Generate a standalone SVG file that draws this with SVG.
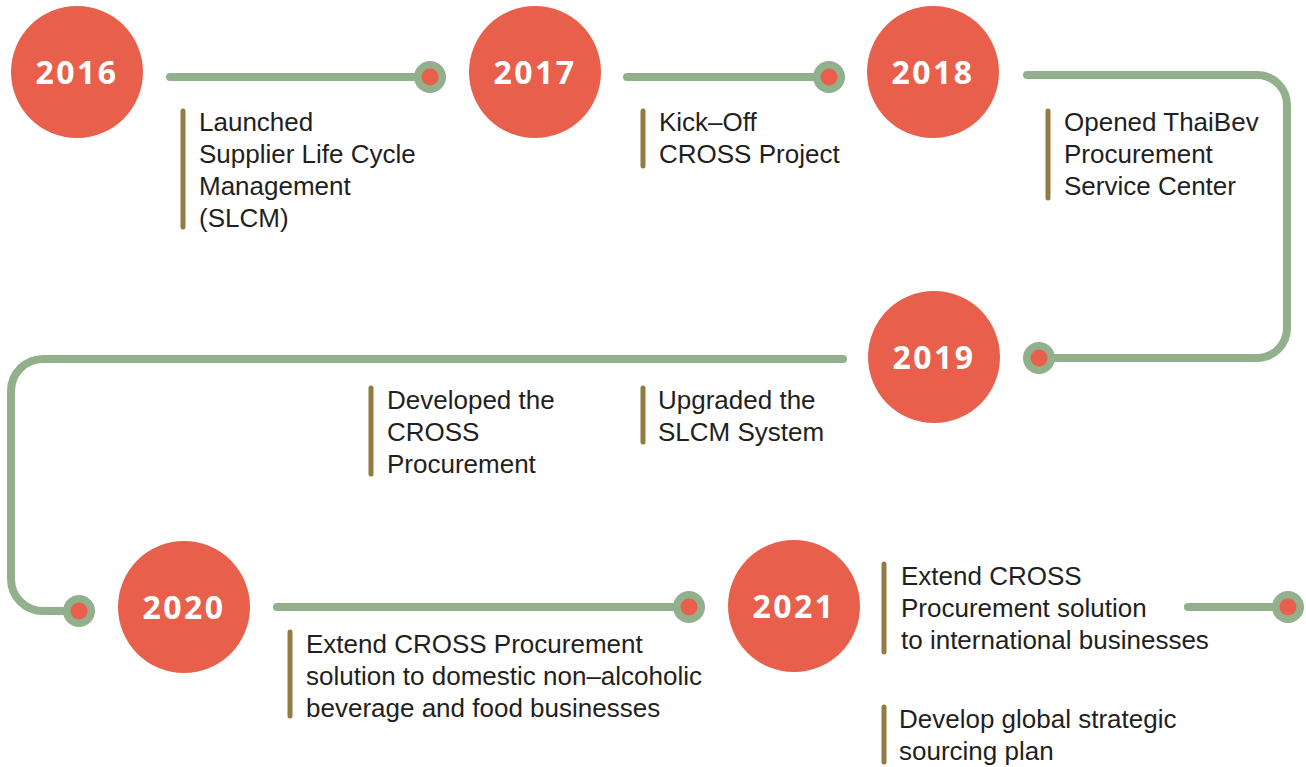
<svg xmlns="http://www.w3.org/2000/svg" width="1306" height="767" viewBox="0 0 1306 767">
<style>
.bg{fill:#ffffff}
.line{fill:none;stroke:#91b08b;stroke-width:8;stroke-linecap:round;stroke-linejoin:round}
.year{fill:#e8604b}
.yt{fill:#ffffff;font-family:"Open Sans","Liberation Sans",sans-serif;font-weight:700;font-size:32px;letter-spacing:2.5px;text-anchor:middle}
.dotO{fill:#91b08b}
.dotI{fill:#e8604b}
.bar{stroke:#937c44;stroke-width:5;stroke-linecap:round}
.lbl{fill:#231f20;font-family:"Liberation Sans",Arial,sans-serif;font-size:26px}
</style>
<rect class="bg" x="0" y="0" width="1306" height="767"/>
<g id="connectors">
<path class="line" d="M170 77 H430"/>
<path class="line" d="M627 77 H829"/>
<path class="line" d="M1027 75 H1257 A30 30 0 0 1 1287 105 V328 A30 30 0 0 1 1257 358 H1039"/>
<path class="line" d="M843 359 H43 A32 32 0 0 0 11 391 V579 A32 32 0 0 0 43 611 H79"/>
<path class="line" d="M277 607 H689"/>
<path class="line" d="M1188 607 H1288"/>
<circle class="dotO" cx="430" cy="77" r="16"/><circle class="dotI" cx="430" cy="77" r="8.5"/>
<circle class="dotO" cx="829" cy="77" r="16"/><circle class="dotI" cx="829" cy="77" r="8.5"/>
<circle class="dotO" cx="1039" cy="358" r="16"/><circle class="dotI" cx="1039" cy="358" r="8.5"/>
<circle class="dotO" cx="79" cy="611" r="16"/><circle class="dotI" cx="79" cy="611" r="8.5"/>
<circle class="dotO" cx="689" cy="607" r="16"/><circle class="dotI" cx="689" cy="607" r="8.5"/>
<circle class="dotO" cx="1288" cy="607" r="16"/><circle class="dotI" cx="1288" cy="607" r="8.5"/>
</g>
<g id="node-2016">
<circle class="year" cx="77" cy="72" r="66"/>
<text class="yt" x="77" y="84">2016</text>
<line class="bar" x1="183" y1="111" x2="183" y2="227"/>
<text class="lbl" x="199" y="131">Launched</text>
<text class="lbl" x="199" y="163">Supplier Life Cycle</text>
<text class="lbl" x="199" y="195">Management</text>
<text class="lbl" x="199" y="227">(SLCM)</text>
</g>
<g id="node-2017">
<circle class="year" cx="535" cy="72" r="66"/>
<text class="yt" x="535" y="84">2017</text>
<line class="bar" x1="643" y1="111" x2="643" y2="166"/>
<text class="lbl" x="659" y="131">Kick–Off</text>
<text class="lbl" x="659" y="163">CROSS Project</text>
</g>
<g id="node-2018">
<circle class="year" cx="933" cy="72" r="66"/>
<text class="yt" x="933" y="84">2018</text>
<line class="bar" x1="1048" y1="111" x2="1048" y2="198"/>
<text class="lbl" x="1064" y="131">Opened ThaiBev</text>
<text class="lbl" x="1064" y="163">Procurement</text>
<text class="lbl" x="1064" y="195">Service Center</text>
</g>
<g id="node-2019">
<circle class="year" cx="934" cy="357" r="66"/>
<text class="yt" x="934" y="369">2019</text>
<line class="bar" x1="371" y1="388" x2="371" y2="474"/>
<text class="lbl" x="387" y="409">Developed the</text>
<text class="lbl" x="387" y="441">CROSS</text>
<text class="lbl" x="387" y="473">Procurement</text>
<line class="bar" x1="643" y1="388" x2="643" y2="442"/>
<text class="lbl" x="658" y="409">Upgraded the</text>
<text class="lbl" x="658" y="441">SLCM System</text>
</g>
<g id="node-2020">
<circle class="year" cx="184" cy="607" r="66"/>
<text class="yt" x="184" y="619">2020</text>
<line class="bar" x1="290" y1="632" x2="290" y2="716"/>
<text class="lbl" x="306" y="653">Extend CROSS Procurement</text>
<text class="lbl" x="306" y="685">solution to domestic non–alcoholic</text>
<text class="lbl" x="306" y="717">beverage and food businesses</text>
</g>
<g id="node-2021">
<circle class="year" cx="794" cy="606" r="66"/>
<text class="yt" x="794" y="618">2021</text>
<line class="bar" x1="884" y1="564" x2="884" y2="652"/>
<text class="lbl" x="901" y="585">Extend CROSS</text>
<text class="lbl" x="901" y="617">Procurement solution</text>
<text class="lbl" x="901" y="649">to international businesses</text>
<line class="bar" x1="884" y1="707" x2="884" y2="762"/>
<text class="lbl" x="899" y="728">Develop global strategic</text>
<text class="lbl" x="899" y="760">sourcing plan</text>
</g>
</svg>
